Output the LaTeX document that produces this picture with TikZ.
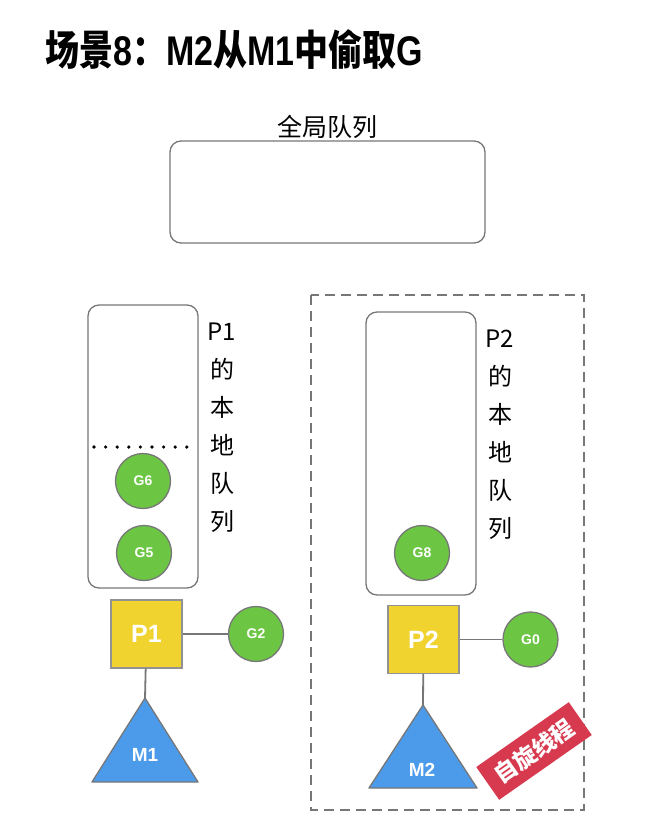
\documentclass[tikz,border=0pt]{standalone}
\usepackage{graphicx}
\usepackage{fontspec}
\setmainfont{Liberation Sans}
\newfontfamily\cjk{Noto Sans CJK SC}
\usetikzlibrary{positioning}
\definecolor{linegray}{HTML}{777777}
\definecolor{pyellow}{HTML}{F0D32F}
\definecolor{ggreen}{HTML}{6CC644}
\definecolor{mblue}{HTML}{4C9BEB}
\definecolor{spinred}{HTML}{D73A4E}
\begin{document}
\begin{tikzpicture}[x=1pt, y=-1pt,
  queue/.style={draw=linegray, line width=1.3pt, rounded corners=11pt},
  qlabel/.style={align=center, inner sep=0pt, font=\cjk\fontsize{24}{38}\selectfont},
  gnode/.style={circle, draw=linegray, line width=1.3pt, fill=ggreen, minimum size=55pt, inner sep=0pt, text=white, font=\bfseries\fontsize{14}{14}\selectfont},
  pnode/.style={rectangle, draw=linegray!80, line width=1.3pt, fill=pyellow, minimum width=71pt, minimum height=68pt, text=white, font=\bfseries\fontsize{25}{25}\selectfont},
  mtri/.style={draw=linegray, line width=1.3pt, fill=mblue, line join=round},
  mlabel/.style={inner sep=0pt, text=white, font=\bfseries\fontsize{19}{19}\selectfont},
  link/.style={draw=linegray, line width=1.8pt},
  stamp/.style={fill=spinred, minimum width=113pt, minimum height=40pt, inner sep=0pt, text=white, font=\cjk\bfseries\fontsize{23}{23}\selectfont}]
\useasboundingbox[fill=white] (0,0) rectangle (647,836);
% Title
\node[anchor=base west, inner sep=0pt, font=\bfseries\fontsize{34}{34}\selectfont] (title) at (45,65)
  {\scalebox{1}[1.22]{{\cjk 场景}8{\cjk ：}M2{\cjk 从}M1{\cjk 中偷取}G}};
% Global queue
\node[queue, minimum width=315pt, minimum height=102pt] (gq) at (327.5,192) {};
\node[above=2pt of gq, inner sep=0pt, font=\cjk\fontsize{25}{25}\selectfont] (gqlabel) {全局队列};
% Spinning thread area (dashed)
\draw[draw=linegray, line width=1.3pt, dash pattern=on 10pt off 6pt] (311,295) rectangle (584,810);
% P1 local queue
\node[queue, minimum width=110pt, minimum height=283pt] (lq1) at (143,446.5) {};
\node[qlabel] (lq1label) at (222,428) {P1\\的\\本\\地\\队\\列};
\draw[line width=3.6pt, line cap=round, dash pattern=on 0pt off 11.6pt] (94,447) -- (188,447);
\node[gnode] (g6) at (143,481) {G6};
\node[gnode] (g5) at (144,553) {G5};
% P1, G2 and M1
\node[pnode] (p1) at (146.5,634) {P1};
\node[gnode] (g2) at (256,634) {G2};
\draw[link] (p1) -- (g2);
\coordinate (m1top) at (145,698);
\draw[mtri] (m1top) -- ++(53,84) -- ++(-106,0) -- cycle;
\node[mlabel] (m1) at (145,755) {M1};
\draw[link] (p1) -- (m1top);
% P2 local queue
\node[queue, minimum width=110pt, minimum height=283pt] (lq2) at (421,453.5) {};
\node[qlabel] (lq2label) at (500,435) {P2\\的\\本\\地\\队\\列};
\node[gnode] (g8) at (422,553) {G8};
% P2, G0 and M2
\node[pnode] (p2) at (423.5,639.5) {P2};
\node[gnode] (g0) at (530.5,639.5) {G0};
\draw[link] (p2) -- (g0);
\coordinate (m2top) at (423,705);
\draw[mtri] (m2top) -- ++(54,83) -- ++(-108,0) -- cycle;
\node[mlabel] (m2) at (422,770) {M2};
\draw[link] (p2) -- (m2top);
% Spinning label
\node[stamp, rotate=35] (spin) at (534,751) {自旋线程};
\end{tikzpicture}
\end{document}
